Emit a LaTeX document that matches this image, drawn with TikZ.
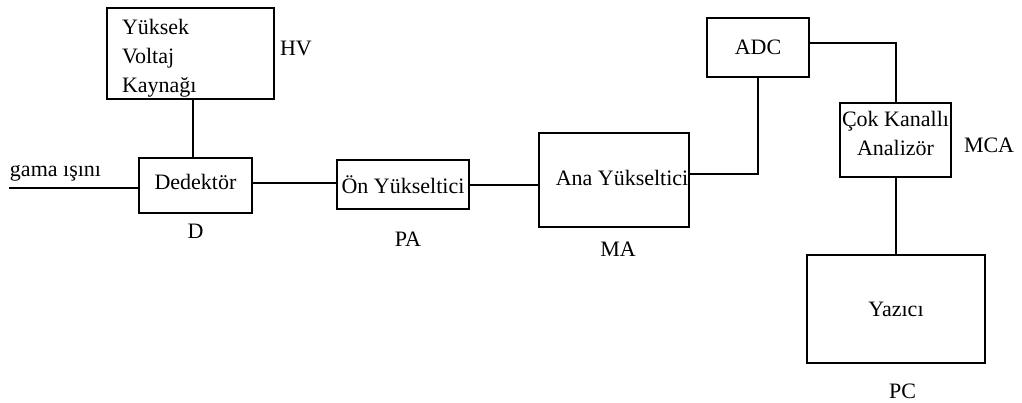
\documentclass[tikz,border=0pt]{standalone}
\usepackage{fontspec}
\setmainfont{Liberation Serif}
\usetikzlibrary{positioning}

\begin{document}
\begin{tikzpicture}[x=0.75pt,y=-0.75pt,line width=1.5pt]
\tikzstyle{blok}=[draw, inner sep=0pt, align=center, font=\fontsize{16.5}{21.75}\selectfont]
\tikzstyle{etiket}=[inner sep=0pt, font=\fontsize{16.5}{19}\selectfont]
\useasboundingbox (0,0) rectangle (1022,403);

\node[blok, minimum width=125.25pt, minimum height=68.25pt, text width=102.75pt, inner xsep=11.25pt, align=left] (hv) at (190.5,53.5) {\rule{0pt}{18.5pt}Yüksek\\Voltaj\\Kaynağı};
\node[blok, minimum width=84.75pt, minimum height=41.25pt] (det) at (195.5,185.5) {Dedektör\rule[-5pt]{0pt}{1pt}};
\node[blok, minimum width=99pt, minimum height=36.75pt] (pa) at (403,184.5) {Ön Yükseltici};
\node[blok, minimum width=112.5pt, minimum height=70.5pt] (ma) at (614,180) {\makebox[111.5pt][r]{Ana Yükseltici}\rule[-3pt]{0pt}{1pt}};
\node[blok, minimum width=76.5pt, minimum height=44.25pt] (adc) at (758,47.5) {ADC};
\node[blok, minimum width=83.25pt, minimum height=55.5pt] (mca) at (895.5,140) {Çok Kanallı\\Analizör\rule[-10.5pt]{0pt}{1pt}};
\node[blok, minimum width=133.5pt, minimum height=81pt] (yaz) at (896,309) {Yazıcı};

\node[etiket, right=3pt of hv, yshift=4pt] (hvad) {HV};
\node[etiket, below=6.75pt of det] (dad) {D};
\node[etiket, below=15.75pt of pa, xshift=3.75pt] (paad) {PA};
\node[etiket, below=9.75pt of ma, xshift=3pt] (maad) {MA};
\node[etiket, right=8.25pt of mca, yshift=-3.75pt] (mcaad) {MCA};
\node[etiket, below=14.25pt of yaz, xshift=5pt] (pcad) {PC};

\coordinate (gin) at (9,188);
\node[etiket, anchor=south west, yshift=4.5pt] (gama) at (gin) {gama ışını};

\draw (gin) -- (gin -| det.west);
\draw ([xshift=1.9pt]hv.south) -- ([xshift=1.9pt]hv.south |- det.north);
\draw ([yshift=1.9pt]det.east) -- ([yshift=1.9pt]det.east -| pa.west);
\draw (pa.east) -- (pa.east -| ma.west);
\draw ([yshift=4.5pt]ma.east) -| (adc.south);
\draw ([yshift=3.4pt]adc.east) -| (mca.north);
\draw (mca.south) -- (mca.south |- yaz.north);
\end{tikzpicture}
\end{document}
